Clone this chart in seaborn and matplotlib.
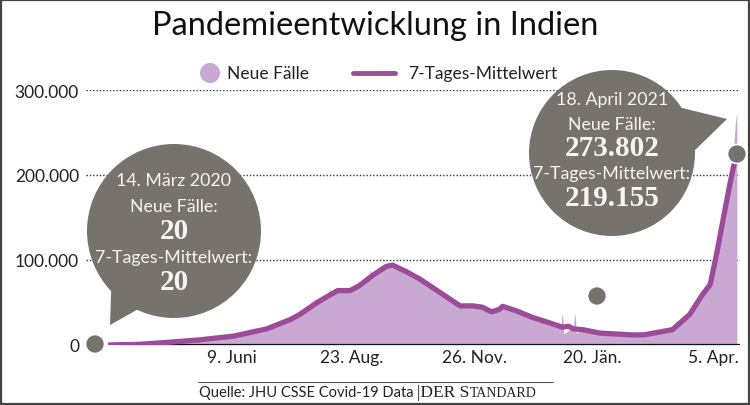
import matplotlib
matplotlib.use("Agg")
import matplotlib.pyplot as plt
from matplotlib.lines import Line2D
from matplotlib.patches import Circle, Polygon, Rectangle
import pandas as pd
import seaborn as sns

# Tage seit 14. März 2020 und 7-Tages-Mittelwert
avg_days = [0, 20, 37, 58, 80, 101, 116, 122, 133, 146, 154, 160, 168, 177, 181,
            190, 198, 211, 224, 232, 238, 244, 249, 251, 260, 270, 281, 289, 293,
            296, 302, 313, 334, 341, 359, 370, 378, 383, 387, 391, 395, 398, 400]
avg_values = [20, 800, 3000, 6000, 10500, 19000, 30000, 36000, 50000, 64000, 64000,
              70000, 81500, 92500, 94000, 86000, 78000, 62000, 46000, 46000, 44500,
              39000, 42000, 45500, 40000, 32500, 26000, 21000, 22000, 19000, 18000,
              14000, 11800, 12000, 18000, 36000, 59000, 71000, 106000, 145000,
              184000, 211000, 219155]

# Neue Fälle pro Tag (inkl. Ausreißer)
case_days = [0, 20, 37, 58, 80, 101, 116, 122, 133, 140, 141, 142, 146, 154, 160,
             166, 167, 168, 177, 181, 185, 190, 198, 205, 211, 224, 232, 238, 244,
             249, 251, 260, 270, 281, 288, 289, 290, 296, 297, 298, 302, 313, 334,
             341, 359, 370, 378, 383, 387, 391, 395, 397, 398, 399, 400]
case_values = [20, 900, 3500, 6500, 11000, 20000, 32000, 38000, 52000, 60000, 67000,
               58000, 66000, 65000, 72000, 80000, 88000, 80000, 95000, 97000, 91000,
               88000, 80000, 70000, 64000, 48000, 48000, 44000, 38000, 43000, 47000,
               41000, 33000, 26000, 21000, 38000, 13000, 22000, 38000, 14000, 18500,
               14500, 12000, 13000, 19000, 38000, 62000, 75000, 110000, 150000,
               190000, 215000, 235000, 260000, 273802]

tick_days = [79, 155, 233, 308, 385]
tick_labels = ["9. Juni", "23. Aug.", "26. Nov.", "20. Jän.", "5. Apr."]
y_ticks = [0, 100000, 200000, 300000]
y_labels = ["0", "100.000", "200.000", "300.000"]

W, H, DPI = 750, 406, 100
AREA = "#c9a8d2"
LINE = "#9c4b98"
GREY = "#78726d"
TEXT = "#222222"
BUBBLE_TEXT = "#f7f3ee"
SANS = ["Lato", "DejaVu Sans"]
SERIF = ["Liberation Serif", "DejaVu Serif"]


def fpos(x, y):
    return x / W, 1 - y / H


def inch(x, y):
    return x / DPI, (H - y) / DPI


sns.set_theme(style="white")
plt.rcParams["font.family"] = SANS

fig = plt.figure(figsize=(W / DPI, H / DPI), dpi=DPI)
fig.patch.set_facecolor("white")
ax = fig.add_axes([86 / W, (H - 346) / H, (740 - 86) / W, (346 - 91) / H])

ax.fill_between(case_days, case_values, color=AREA, lw=0, zorder=1)
sns.lineplot(x=avg_days, y=avg_values, color=LINE, lw=3.8, ax=ax, zorder=3,
             solid_capstyle="butt")
ax.hlines(0, avg_days[0], 402, color="#111111", lw=1.6, zorder=2)

ax.set_xlim(-14, 402)
ax.set_ylim(0, 300000)
for v in y_ticks[1:]:
    ax.axhline(v, color="#333333", lw=1.0, ls=(0, (1, 1.4)), zorder=0)
ax.set_yticks(y_ticks, y_labels)
ax.set_xticks(tick_days, tick_labels)
ax.tick_params(axis="both", length=0, labelsize=12.5, colors=TEXT)
ax.tick_params(axis="y", pad=5)
ax.tick_params(axis="x", pad=3)
for s in ax.spines.values():
    s.set_visible(False)
ax.set_xlabel("")
ax.set_ylabel("")
ax.patch.set_alpha(0)

# Titel
fig.text(*fpos(375, 26), "Pandemieentwicklung in Indien", ha="center", va="center",
         fontsize=23.5, fontweight="normal", color="#111111")

# Legende
fig.patches.append(Circle(inch(210, 74), 10 / DPI, transform=fig.dpi_scale_trans,
                          color=AREA, lw=0))
fig.text(*fpos(227, 74), "Neue Fälle", ha="left", va="center", fontsize=12.5, color=TEXT)
fig.lines.append(Line2D([353 / W, 395 / W], [fpos(0, 74)[1]] * 2, transform=fig.transFigure,
                        color=LINE, lw=3.5, solid_capstyle="round"))
fig.text(*fpos(408, 74), "7-Tages-Mittelwert", ha="left", va="center", fontsize=12.5,
         color=TEXT)


def bubble(cx, cy, r, tail, lines):
    fig.patches.append(Circle(inch(cx, cy), r / DPI, transform=fig.dpi_scale_trans,
                              color=GREY, lw=0, zorder=5))
    fig.patches.append(Polygon([inch(*p) for p in tail], closed=True,
                               transform=fig.dpi_scale_trans, color=GREY, lw=0, zorder=5))
    for y, txt, big in lines:
        if big:
            fig.text(*fpos(cx, y), txt, ha="center", va="center", fontsize=21,
                     fontweight="bold", family=SERIF, color=BUBBLE_TEXT, zorder=6)
        else:
            fig.text(*fpos(cx, y), txt, ha="center", va="center", fontsize=12.8,
                     color=BUBBLE_TEXT, zorder=6)


bubble(174, 232, 87, [(112, 268), (110, 326), (160, 298)],
       [(181, "14. März 2020", False), (207, "Neue Fälle:", False),
        (232, "20", True), (258, "7-Tages-Mittelwert:", False), (282, "20", True)])
bubble(612, 154, 83, [(678, 108), (727, 120), (690, 156)],
       [(100, "18. April 2021", False), (125, "Neue Fälle:", False),
        (149, "273.802", True), (174, "7-Tages-Mittelwert:", False),
        (199, "219.155", True)])

for x, y in [(95, 345), (597, 297), (737, 155)]:
    fig.patches.append(Circle(inch(x, y), 9.5 / DPI, transform=fig.dpi_scale_trans,
                              facecolor=GREY, edgecolor="white", lw=1.2, zorder=7))

# Quelle
fig.lines.append(Line2D([198 / W, 553 / W], [fpos(0, 383)[1]] * 2,
                        transform=fig.transFigure, color="#555555", lw=0.8))
renderer = fig.canvas.get_renderer()
t = fig.text(*fpos(199, 397), "Quelle: JHU CSSE Covid-19 Data ", ha="left",
             va="baseline", fontsize=10.5, color=TEXT)
x1 = t.get_window_extent(renderer).x1
t = fig.text(x1 / W, fpos(0, 397)[1], "|DER S", ha="left", va="baseline",
             fontsize=12.5, family=SERIF, color=TEXT)
x1 = t.get_window_extent(renderer).x1
fig.text(x1 / W, fpos(0, 397)[1], "TANDARD", ha="left", va="baseline",
         fontsize=10, family=SERIF, color=TEXT)

# Rahmen
fig.patches.append(Rectangle((0.001, 0.002), 0.997, 0.995, transform=fig.transFigure,
                             fill=False, edgecolor="#444444", lw=1.6))

fig.savefig("out.png", dpi=DPI)
